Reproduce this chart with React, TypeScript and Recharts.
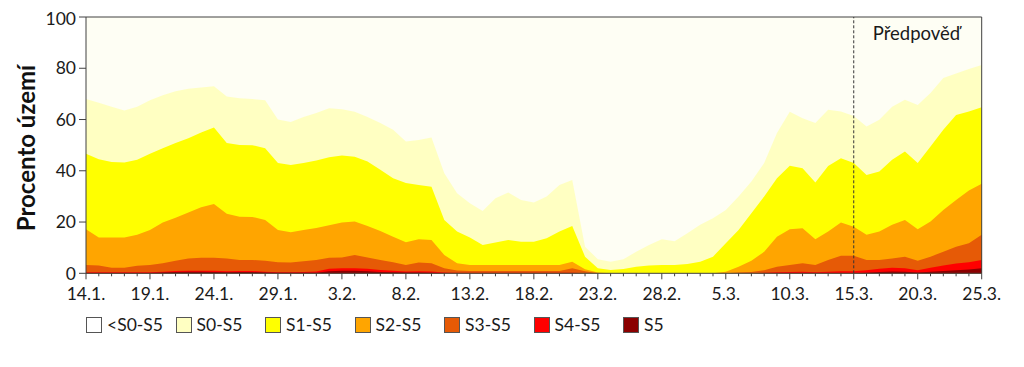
import React from 'react';
import { AreaChart, Area, XAxis, YAxis, ReferenceLine, Legend } from 'recharts';

const dates = [
  '14.1.', '15.1.', '16.1.', '17.1.', '18.1.', '19.1.', '20.1.', '21.1.', '22.1.', '23.1.',
  '24.1.', '25.1.', '26.1.', '27.1.', '28.1.', '29.1.', '30.1.', '31.1.', '1.2.', '2.2.',
  '3.2.', '4.2.', '5.2.', '6.2.', '7.2.', '8.2.', '9.2.', '10.2.', '11.2.', '12.2.',
  '13.2.', '14.2.', '15.2.', '16.2.', '17.2.', '18.2.', '19.2.', '20.2.', '21.2.', '22.2.',
  '23.2.', '24.2.', '25.2.', '26.2.', '27.2.', '28.2.', '1.3.', '2.3.', '3.3.', '4.3.',
  '5.3.', '6.3.', '7.3.', '8.3.', '9.3.', '10.3.', '11.3.', '12.3.', '13.3.', '14.3.',
  '15.3.', '16.3.', '17.3.', '18.3.', '19.3.', '20.3.', '21.3.', '22.3.', '23.3.', '24.3.',
  '25.3.',
];

const s0 = [
  68, 66.5, 65, 63.5, 65, 67.5, 69.5, 71, 72, 72.5,
  73, 69, 68.3, 68, 67.5, 60, 59, 61, 62.5, 64.4,
  64, 63, 61, 58.6, 56, 51.4, 52, 53, 39, 31.2,
  27.3, 24.3, 29.3, 31.5, 28.6, 27.6, 30, 34.5, 36.4, 10.4,
  5.5, 4.5, 5.5, 8.4, 11, 13.3, 12.5, 15.6, 18.9, 21.5,
  24.7, 30, 35.8, 43, 54.7, 63, 60.5, 58.6, 63.8, 63.1,
  61.4, 57.3, 59.9, 65, 67.7, 65.7, 70.3, 76.2, 78, 79.7,
  81.3,
];
const s1 = [
  46.6, 44.5, 43.4, 43.2, 44.3, 46.6, 48.8, 50.8, 52.7, 54.9,
  56.9, 50.8, 50.1, 50, 48.8, 43, 42.3, 43, 44, 45.3,
  46, 45.5, 43.6, 40.4, 37.1, 35.2, 34.5, 33.8, 20.8, 16.3,
  14, 11, 12, 13, 12.3, 12.3, 13.7, 16.3, 18.5, 6.5,
  2, 1.3, 1.7, 2.6, 3, 3.2, 3.2, 3.6, 4.5, 6.5,
  11.7, 16.9, 23.4, 30, 37.1, 42, 41, 35.4, 41.9, 44.9,
  43, 38.4, 39.7, 44.3, 47.5, 43, 49.5, 56, 61.8, 63.1,
  64.8,
];
const s2 = [
  17.2, 14, 14, 14, 15, 16.9, 19.8, 21.7, 23.7, 25.8,
  27, 23.2, 22.1, 22, 20.8, 16.9, 16, 16.9, 17.7, 18.7,
  19.8, 20.2, 18.5, 16.5, 14.3, 12.1, 13.3, 13, 7.1, 3.9,
  3.2, 3.2, 3.2, 3.2, 3.2, 3.2, 3.2, 3.2, 4.5, 1.6,
  0.3, 0, 0, 0, 0, 0, 0, 0, 0, 0,
  0.6, 2.6, 4.9, 8.4, 14.3, 17.2, 17.6, 13.3, 16.3, 19.8,
  18.2, 15, 16.3, 18.9, 20.8, 17.2, 20.2, 24.7, 28.6, 32.3,
  34.9,
];
const s3 = [
  3.2, 3, 2.2, 2.2, 2.9, 3.2, 3.9, 4.9, 5.8, 6.1,
  6.1, 5.8, 5.2, 5.2, 4.9, 4.3, 4.2, 4.7, 5.2, 6.1,
  6.2, 7.1, 6.2, 5.2, 4.3, 3.2, 4.2, 3.9, 2, 1.1,
  0.9, 0.9, 0.9, 0.9, 0.9, 0.9, 0.9, 0.9, 2, 0.8,
  0, 0, 0, 0, 0, 0, 0, 0, 0, 0,
  0, 0.3, 0.5, 1.2, 2.6, 3.2, 3.9, 3.2, 5.2, 6.8,
  6.8, 5.2, 5.2, 5.8, 6.5, 4.9, 6.5, 8.4, 10.4, 11.7,
  15,
];
const s4 = [
  0.4, 0.4, 0.4, 0.4, 0.4, 0.4, 0.6, 0.9, 1, 1,
  1, 0.8, 0.9, 0.9, 0.6, 0.4, 0.4, 0.5, 0.7, 1.8,
  2, 2, 1.8, 1.3, 1, 0.7, 0.8, 0.7, 0.3, 0.2,
  0.2, 0.2, 0.2, 0.2, 0.2, 0.2, 0.2, 0.2, 0.2, 0,
  0, 0, 0, 0, 0, 0, 0, 0, 0, 0,
  0, 0, 0, 0.2, 0.4, 0.5, 0.6, 0.4, 0.6, 0.8,
  0.8, 1.2, 1.8, 2.2, 2, 1.2, 2.2, 3, 3.8, 4.3,
  5.2,
];
const s5 = [
  0.1, 0.1, 0.1, 0.1, 0.1, 0.1, 0.3, 0.5, 0.6, 0.6,
  0.5, 0.4, 0.5, 0.5, 0.3, 0.2, 0.2, 0.2, 0.2, 0.8,
  1, 1, 0.8, 0.5, 0.4, 0.3, 0.3, 0.2, 0, 0,
  0, 0, 0, 0, 0, 0, 0, 0, 0, 0,
  0, 0, 0, 0, 0, 0, 0, 0, 0, 0,
  0, 0, 0, 0, 0, 0, 0, 0, 0, 0,
  0, 0.2, 0.5, 0.7, 0.6, 0.3, 0.6, 0.9, 1.2, 1.5,
  2,
];

const yTicks = [0, 20, 40, 60, 80, 100];
const forecastStart = '15.3.';

const seriesNames = ['<S0-S5', 'S0-S5', 'S1-S5', 'S2-S5', 'S3-S5', 'S4-S5', 'S5'];
const seriesColors = ['#FEFEF4', '#FFFFC2', '#FFFF00', '#FFA500', '#E65A06', '#FF0000', '#8B0000'];

const data = dates.map((d, i) => ({
  date: d,
  all: 100,
  s0: s0[i],
  s1: s1[i],
  s2: s2[i],
  s3: s3[i],
  s4: s4[i],
  s5: s5[i],
}));

const keys = ['all', 's0', 's1', 's2', 's3', 's4', 's5'];

const FONT = 'Lato, "DejaVu Sans", sans-serif';

const XTick = (props: any) => {
  const { x, y, payload } = props;
  const idx = payload?.index ?? props.index ?? 0;
  const major = idx % 5 === 0;
  return (
    <g>
      <line x1={x} x2={x} y1={y} y2={y + (major ? 6 : 3)} stroke="#404040" strokeWidth={1} />
      {major && (
        <text x={x} y={y + 26.7} textAnchor="middle" fontSize={17.5} fontFamily={FONT} fill="#1a1a1a">
          {payload.value}
        </text>
      )}
    </g>
  );
};

const LegendContent = () => (
  <div style={{ display: 'flex', fontFamily: FONT, fontSize: 17.5, color: '#1a1a1a' }}>
    {seriesNames.map((n, i) => (
      <div key={n} style={{ width: 89.5, display: 'flex', alignItems: 'center' }}>
        <div
          style={{
            width: 14,
            height: 14,
            background: i === 0 ? '#FFFFFF' : seriesColors[i],
            border: '1px solid #555',
            marginRight: 5,
            flexShrink: 0,
          }}
        />
        <span style={{ lineHeight: '16px', whiteSpace: 'nowrap' }}>{n}</span>
      </div>
    ))}
  </div>
);

export default function App() {
  return (
    <AreaChart
      width={1008}
      height={340}
      data={data}
      margin={{ top: 9, right: 34.3, left: 0, bottom: 44.7 }}
    >
      <XAxis
        dataKey="date"
        interval={0}
        tickLine={false}
        tickSize={0}
        tickMargin={0}
        height={30}
        axisLine={{ stroke: '#404040' }}
        tick={<XTick />}
      />
      <YAxis
        type="number"
        domain={[0, 100]}
        ticks={yTicks}
        width={78}
        tickSize={7}
        tickMargin={3}
        axisLine={{ stroke: '#404040' }}
        tickLine={{ stroke: '#404040' }}
        tick={{ fontSize: 17.5, fontFamily: FONT, fill: '#1a1a1a' }}
        label={(p: any) => (
          <text
            x={27}
            y={140}
            transform="rotate(-90 27 140)"
            textAnchor="middle"
            fontSize={24}
            fontWeight="bold"
            fontFamily={FONT}
            fill="#111"
          >
            Procento území
          </text>
        )}
      />
      {keys.map((k, i) => (
        <Area
          key={k}
          dataKey={k}
          name={seriesNames[i]}
          type="linear"
          stroke="none"
          fill={seriesColors[i]}
          fillOpacity={1}
          isAnimationActive={false}
          dot={false}
          activeDot={false}
        />
      ))}
      <ReferenceLine y={100} stroke="#404040" strokeWidth={1} />
      <ReferenceLine x={dates[dates.length - 1]} stroke="#404040" strokeWidth={1} />
      <ReferenceLine
        x={forecastStart}
        stroke="#333"
        strokeWidth={1}
        strokeDasharray="3 2"
        label={(p: any) => (
          <text
            x={(p.viewBox?.x ?? 845) + 19}
            y={31.5}
            fontSize={18.5}
            fontFamily={FONT}
            fill="#1a1a1a"
          >
            Předpověď
          </text>
        )}
      />
      <Legend
        verticalAlign="middle"
        align="center"
        layout="horizontal"
        content={<LegendContent />}
        wrapperStyle={{ position: 'absolute', top: 309, left: 78, width: 700, height: 20 }}
      />
    </AreaChart>
  );
}
